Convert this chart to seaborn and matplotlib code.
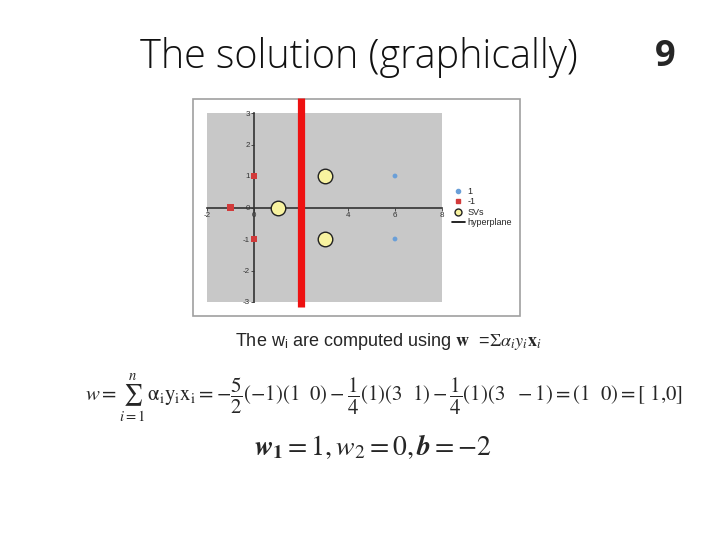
import matplotlib
matplotlib.use('Agg')
import matplotlib.pyplot as plt
from matplotlib.patches import Rectangle
from matplotlib.lines import Line2D
import pandas as pd
import seaborn as sns

# data
pos_x = [6, 6]
pos_y = [1, -1]
neg_x = [0, -1, 0]
neg_y = [1, 0, -1]
sv_x = [1, 3, 3]
sv_y = [0, 1, -1]
hyperplane_x = 2
x_ticks = [-2, 0, 2, 4, 6, 8]
y_ticks = [-3, -2, -1, 0, 1, 2, 3]
legend_labels = ['1', '-1', 'SVs', 'hyperplane']

sns.set_style('white')
plt.rcParams['font.family'] = ['Liberation Sans', 'DejaVu Sans']
plt.rcParams['mathtext.fontset'] = 'stix'
plt.rcParams['axes.unicode_minus'] = False

W, H = 720, 540
fig = plt.figure(figsize=(7.2, 5.4), dpi=100)

# outer chart frame
fig.patches.append(Rectangle((193 / W, 1 - 316 / H), 327 / W, 217 / H,
                             transform=fig.transFigure, facecolor='white',
                             edgecolor='#a0a0a0', lw=1.2, zorder=-5))

ax = fig.add_axes([207 / W, 1 - 302 / H, 235 / W, 189 / H])
ax.set_zorder(2)
ax.set_facecolor('#c8c8c8')

df_pos = pd.DataFrame({'x': pos_x, 'y': pos_y})
df_neg = pd.DataFrame({'x': neg_x, 'y': neg_y})
df_sv = pd.DataFrame({'x': sv_x, 'y': sv_y})

sns.scatterplot(data=df_pos, x='x', y='y', ax=ax, color='#6a9fd8', s=12,
                marker='o', edgecolor='none', zorder=4, legend=False)
sns.scatterplot(data=df_neg, x='x', y='y', ax=ax, color='#d23a3a', s=22,
                marker='s', edgecolor='none', zorder=4, legend=False)
sns.scatterplot(data=df_sv, x='x', y='y', ax=ax, color='#f8f3a0', s=110,
                marker='o', edgecolor='#222222', linewidth=1, zorder=5,
                legend=False)

ax.set_xlim(-2, 8)
ax.set_ylim(-3, 3)
ax.set_xticks(x_ticks)
ax.set_yticks(y_ticks)
ax.set_xlabel('')
ax.set_ylabel('')

for side in ['top', 'right']:
    ax.spines[side].set_visible(False)
ax.spines['left'].set_position(('data', 0))
ax.spines['bottom'].set_position(('data', 0))
ax.spines['left'].set_color('#333333')
ax.spines['bottom'].set_color('#333333')
ax.spines['left'].set_linewidth(1.2)
ax.spines['bottom'].set_linewidth(1.2)
ax.tick_params(axis='both', labelsize=5.8, colors='#333333', length=2,
               width=0.6, pad=1, direction='out')
ax.tick_params(axis='x', bottom=True)
ax.tick_params(axis='y', left=True)

# hyperplane x = 2, drawn as the thick red bar on the slide
ax.axvline(hyperplane_x, ymin=-0.028, ymax=1.08, color='#ee1111', lw=5.2,
           clip_on=False, zorder=6, solid_capstyle='butt')

handles = [
    Line2D([], [], marker='o', ls='none', color='#6a9fd8', markersize=3),
    Line2D([], [], marker='s', ls='none', color='#d23a3a', markersize=3.5),
    Line2D([], [], marker='o', ls='none', markerfacecolor='#f8f3a0',
           markeredgecolor='#222222', markersize=5),
    Line2D([], [], color='black', lw=1.2),
]
fig.legend(handles, legend_labels, loc='center left',
           bbox_to_anchor=(447 / W, 1 - 207 / H), frameon=False,
           fontsize=6.5, handlelength=1.5, handletextpad=0.3,
           labelspacing=0.15, borderpad=0)

# slide texts
fig.text(359 / W, 1 - 57 / H, 'The solution (graphically)', ha='center',
         va='center', fontsize=28.5, family=['Open Sans', 'DejaVu Sans'],
         fontweight='light', color='#111111')
fig.text(665 / W, 1 - 57 / H, '9', ha='center', va='center', fontsize=26,
         fontweight='bold', family=['Open Sans', 'DejaVu Sans'])
fig.text(388 / W, 1 - 341 / H,
         r'The w$_\mathregular{i}$ are computed using $\mathbf{w}$  =$\Sigma\alpha_i y_i$$\mathbf{x}_i$',
         ha='center', va='center', fontsize=13)
fig.text(384 / W, 1 - 398 / H,
         r'$w = \sum_{i=1}^{n}\,\mathrm{\alpha_i y_i x_i} = -\dfrac{5}{2}(-1)(1\ \ 0) - \dfrac{1}{4}(1)(3\ \ 1) - \dfrac{1}{4}(1)(3\ \ -1) = (1\ \ 0) = [\ 1{,}0]$',
         ha='center', va='center', fontsize=15)
fig.text(373 / W, 1 - 447 / H,
         r'$\mathbfit{w}_\mathbf{1} = 1, \mathit{w}_2 = 0, \mathbfit{b} = -2$',
         ha='center', va='center', fontsize=20)

fig.savefig('out.png', dpi=100)
